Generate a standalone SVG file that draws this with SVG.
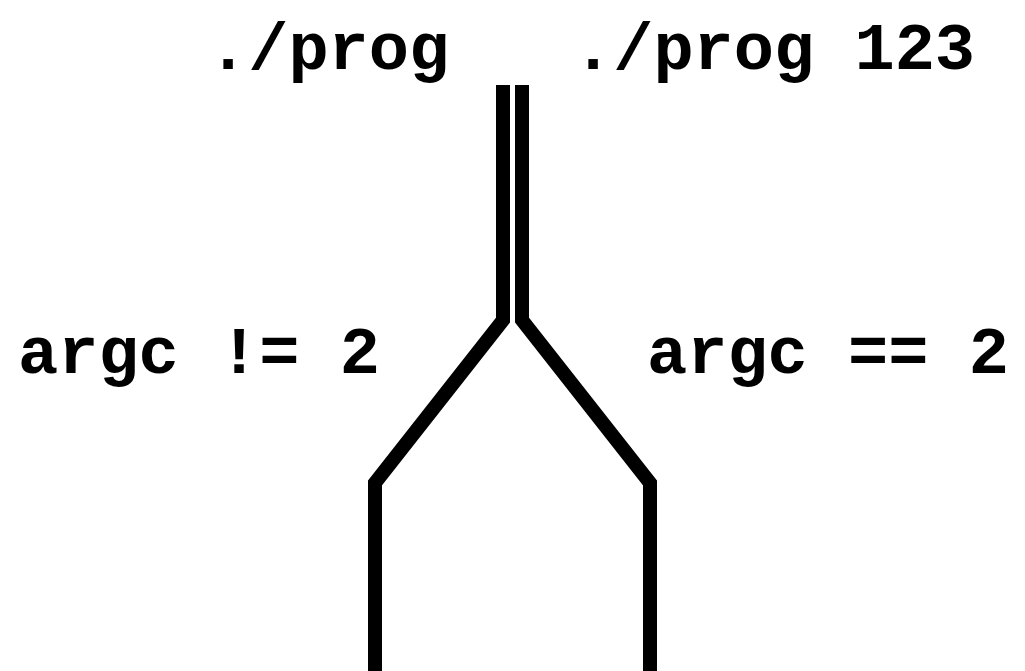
<svg xmlns="http://www.w3.org/2000/svg" width="1025" height="671" viewBox="0 0 1025 671">
<style>
.lbl{font-family:"Courier New","Nimbus Mono PS","Nimbus Mono L","FreeMono","Liberation Mono",monospace;font-weight:bold;font-size:67px;fill:#000}
.ln{fill:none;stroke:#000;stroke-width:14;stroke-linejoin:miter}
</style>
<rect width="1025" height="671" fill="#fff"/>
<g id="connectors">
<polyline class="ln" points="503,85 503,320 375,483 375,680"/>
<polyline class="ln" points="522,85 522,320 650,483 650,680"/>
</g>
<g id="label-prog"><text class="lbl" x="208" y="69">./prog</text></g>
<g id="label-prog123"><text class="lbl" x="573" y="69">./prog 123</text></g>
<g id="label-ne"><text class="lbl" x="18" y="373">argc != 2</text></g>
<g id="label-eq"><text class="lbl" x="647" y="373">argc == 2</text></g>
</svg>
